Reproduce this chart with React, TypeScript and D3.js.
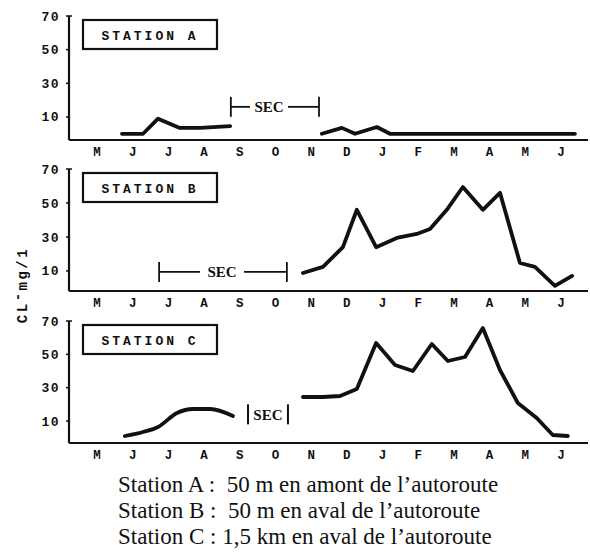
import React from "react";
import * as d3 from "d3";

// ---------- data ----------
const months = ["M", "J", "J", "A", "S", "O", "N", "D", "J", "F", "M", "A", "M", "J"];
const yTicks = [10, 30, 50, 70];

// Station A
const aSeg1Month = [0.7, 1.29, 1.71, 2.32, 2.89, 3.73];
const aSeg1Val = [0, 0, 9, 3.5, 3.5, 4.5];
const aSeg2Month = [6.3, 6.86, 7.23, 7.84, 8.21, 13.39];
const aSeg2Val = [0, 3.5, 0, 4, 0, 0];

// Station B
const bMonth = [5.77, 6.33, 6.89, 7.28, 7.82, 8.4, 8.96, 9.33, 9.8, 10.25, 10.81, 11.29, 11.85, 12.27, 12.83, 13.31];
const bVal = [8.8, 12.4, 24, 46, 24, 29.4, 31.8, 34.7, 46, 59.4, 46, 56, 14.7, 12.4, 1.2, 7.1];

// Station C
const cSeg1Month = [0.78, 1.29, 1.71, 2.24, 2.69, 3.17, 3.81];
const cSeg1Val = [1, 3.4, 6.4, 14.8, 17.2, 17.2, 13];
const cSeg2Month = [5.77, 6.33, 6.81, 7.28, 7.82, 8.35, 8.85, 9.38, 9.83, 10.31, 10.81, 11.29, 11.79, 12.32, 12.77, 13.19];
const cSeg2Val = [24.4, 24.4, 25, 29.2, 56.8, 43.6, 40, 56.2, 46, 48.4, 65.8, 40.6, 20.8, 11.8, 1.6, 1.0];

const stationNames = ["STATION A", "STATION B", "STATION C"];
const secLabel = "SEC";
const captions = [
  "Station A :  50 m en amont de l\u2019autoroute",
  "Station B :  50 m en aval de l\u2019autoroute",
  "Station C : 1,5 km en aval de l\u2019autoroute",
];

// ---------- layout ----------
const W = 590;
const H = 556;
const axisX = 69;
const x = d3.scaleLinear().domain([0, 13]).range([97, 561]);

type Seg = { m: number[]; v: number[]; smooth?: boolean };
type Sec = { kind: "range" | "bars"; m0: number; m1: number; v: number; gap0: number; gap1: number };

const panels: { y70: number; base: number; yMin: number; segs: Seg[]; sec: Sec }[] = [
  {
    y70: 16, base: 140, yMin: -3.7,
    segs: [{ m: aSeg1Month, v: aSeg1Val }, { m: aSeg2Month, v: aSeg2Val }],
    sec: { kind: "range", m0: 3.75, m1: 6.22, v: 16, gap0: 250, gap1: 288 },
  },
  {
    y70: 169, base: 291, yMin: -1.8,
    segs: [{ m: bMonth, v: bVal }],
    sec: { kind: "range", m0: 1.74, m1: 5.32, v: 9.4, gap0: 200, gap1: 244 },
  },
  {
    y70: 321, base: 443, yMin: -3.2,
    segs: [{ m: cSeg1Month, v: cSeg1Val, smooth: true }, { m: cSeg2Month, v: cSeg2Val }],
    sec: { kind: "bars", m0: 4.23, m1: 5.35, v: 14, gap0: 0, gap1: 0 },
  },
];

const mono = "'Liberation Mono', 'DejaVu Sans Mono', monospace";
const serif = "'Liberation Serif', 'Times New Roman', serif";

function Panel({ p, idx }: { p: (typeof panels)[number]; idx: number }) {
  const y = d3.scaleLinear().domain([p.yMin, 70]).range([p.base, p.y70]);
  const secY = y(p.sec.v);
  const sx0 = x(p.sec.m0);
  const sx1 = x(p.sec.m1);
  return (
    <g>
      {/* axes */}
      <line x1={axisX} x2={588} y1={p.base} y2={p.base} stroke="#111" strokeWidth={2.2} />
      <line x1={axisX} x2={axisX} y1={p.y70} y2={p.base} stroke="#111" strokeWidth={2.2} />
      <line x1={axisX} x2={axisX + 3} y1={p.y70} y2={p.y70} stroke="#111" strokeWidth={1.5} />
      {yTicks.map((t) => (
        <g key={t}>
          <line x1={axisX - 3} x2={axisX} y1={y(t)} y2={y(t)} stroke="#111" strokeWidth={1.5} />
          <text
            x={60}
            y={y(t)}
            dy="0.35em"
            textAnchor="end"
            fontFamily={mono}
            fontWeight="bold"
            fontSize={13}
            letterSpacing={1.5}
            fill="#111"
          >
            {t}
          </text>
        </g>
      ))}
      {months.map((mo, i) => (
        <text
          key={i}
          x={x(i)}
          y={p.base + 16}
          textAnchor="middle"
          fontFamily={mono}
          fontWeight="bold"
          fontSize={12.5}
          fill="#111"
        >
          {mo}
        </text>
      ))}
      {/* station box */}
      <rect x={83} y={p.y70 + 4} width={134} height={29} fill="white" stroke="#111" strokeWidth={2.2} />
      <text
        x={150}
        y={p.y70 + 19}
        dy="0.35em"
        textAnchor="middle"
        fontFamily={mono}
        fontWeight="bold"
        fontSize={13}
        letterSpacing={3}
        fill="#111"
      >
        {stationNames[idx]}
      </text>
      {/* SEC marker */}
      {p.sec.kind === "range" ? (
        <g stroke="#111" strokeWidth={1.8}>
          <line x1={sx0} x2={sx0} y1={secY - 10} y2={secY + 10} />
          <line x1={sx1} x2={sx1} y1={secY - 10} y2={secY + 10} />
          <line x1={sx0} x2={p.sec.gap0} y1={secY} y2={secY} />
          <line x1={p.sec.gap1} x2={sx1} y1={secY} y2={secY} />
        </g>
      ) : (
        <g stroke="#111" strokeWidth={2}>
          <line x1={sx0} x2={sx0} y1={secY - 10} y2={secY + 10} />
          <line x1={sx1} x2={sx1} y1={secY - 10} y2={secY + 10} />
        </g>
      )}
      <text
        x={p.sec.kind === "range" ? (p.sec.gap0 + p.sec.gap1) / 2 : (sx0 + sx1) / 2}
        y={secY}
        dy="0.35em"
        textAnchor="middle"
        fontFamily={serif}
        fontWeight="bold"
        fontSize={15}
        fill="#111"
      >
        {secLabel}
      </text>
      {/* data lines */}
      {p.segs.map((s, k) => {
        const pts: [number, number][] = s.m.map((m, i) => [m, s.v[i]]);
        const gen = d3
          .line<[number, number]>()
          .x((d) => x(d[0]))
          .y((d) => y(d[1]))
          .curve(s.smooth ? d3.curveMonotoneX : d3.curveLinear);
        return (
          <path
            key={k}
            d={gen(pts) || ""}
            fill="none"
            stroke="#111"
            strokeWidth={3.8}
            strokeLinejoin="round"
            strokeLinecap="round"
          />
        );
      })}
    </g>
  );
}

export default function App() {
  return (
    <svg
      width={W}
      height={H}
      viewBox={`0 0 ${W} ${H}`}
      style={{ position: "absolute", left: 0, top: 0, background: "white" }}
    >
      <rect x={0} y={0} width={W} height={H} fill="white" />
      {panels.map((p, i) => (
        <Panel key={i} p={p} idx={i} />
      ))}
      {/* y axis title */}
      <text
        transform="translate(22,285) rotate(-90)"
        textAnchor="middle"
        dy="0.35em"
        fontFamily={mono}
        fontWeight="bold"
        fontSize={14}
        letterSpacing={2.5}
        fill="#111"
      >
        CL
        <tspan dy={-5}>-</tspan>
        <tspan dy={5}>mg/1</tspan>
      </text>
      {captions.map((c, i) => (
        <text
          key={i}
          x={118}
          y={492 + i * 26}
          fontFamily={serif}
          fontSize={23}
          fill="#111"
          style={{ whiteSpace: "pre" }}
        >
          {c}
        </text>
      ))}
    </svg>
  );
}
